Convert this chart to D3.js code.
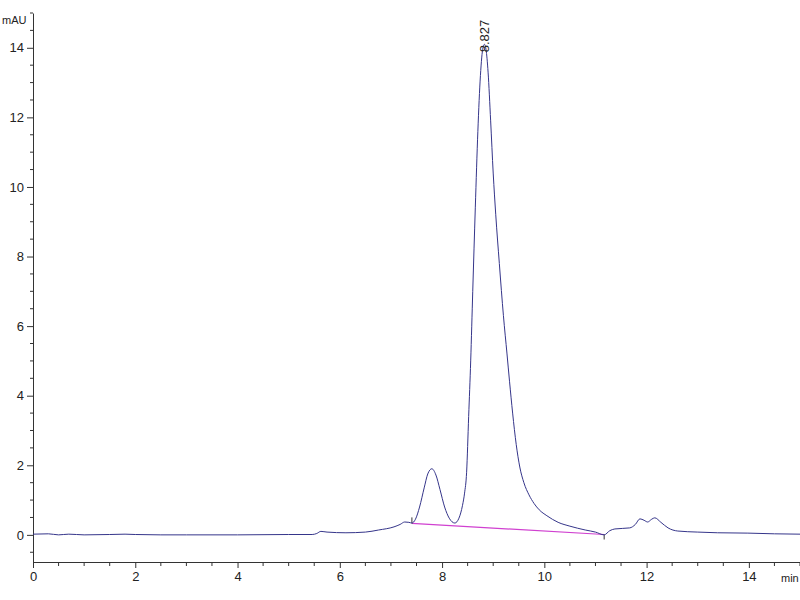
<!DOCTYPE html>
<html>
<head>
<meta charset="utf-8">
<script src="https://cdn.jsdelivr.net/npm/d3@7"></script>
<style>
  body { margin: 0; background: white; }
  text { font-family: "Liberation Sans", Arial, sans-serif; }
</style>
</head>
<body>
<div id="chart"></div>
<script>
// retention time (min) and signal (mAU)
let times = [0, 0.3, 0.5, 0.7, 1.0, 1.5, 1.8, 2.0, 2.5, 3.0, 4.0, 5.0, 5.46, 5.55, 5.63, 5.75, 6.12, 6.5, 6.76, 7.06, 7.18, 7.27, 7.35, 7.41,
  7.48, 7.56, 7.65, 7.72, 7.80, 7.88, 7.96, 8.05, 8.14, 8.25, 8.33, 8.40, 8.44, 8.48, 8.52, 8.56, 8.60, 8.65, 8.70, 8.75, 8.80, 8.83,
  8.86, 8.90, 8.95, 9.00, 9.05, 9.12, 9.20, 9.27, 9.32, 9.38, 9.45, 9.52, 9.60, 9.70, 9.80, 9.90, 10.05, 10.27, 10.5, 10.8, 11.0, 11.17,
  11.28, 11.38, 11.67, 11.78, 11.87, 11.95, 12.02, 12.10, 12.16, 12.28, 12.42, 12.61, 13.0, 13.39, 13.98, 14.5, 15.0];
let signal = [0.02, 0.03, 0.0, 0.02, 0.0, 0.01, 0.02, 0.01, 0.0, 0.0, 0.0, 0.01, 0.01, 0.04, 0.1, 0.08, 0.06, 0.08, 0.14, 0.23, 0.3, 0.37, 0.36, 0.34,
  0.45, 0.8, 1.35, 1.75, 1.9, 1.72, 1.3, 0.8, 0.48, 0.34, 0.48, 0.85, 1.2, 1.8, 3.4, 5.0, 7.0, 9.4, 11.6, 13.2, 14.0, 14.1,
  13.95, 13.3, 11.9, 10.4, 9.2, 7.8, 6.3, 5.2, 4.4, 3.5, 2.6, 1.95, 1.5, 1.15, 0.9, 0.72, 0.55, 0.36, 0.25, 0.14, 0.08, 0.0,
  0.12, 0.17, 0.2, 0.3, 0.46, 0.42, 0.37, 0.45, 0.49, 0.36, 0.2, 0.11, 0.08, 0.06, 0.05, 0.03, 0.02];

// integration baseline of the main peak
let baseTimes = [7.41, 11.17];
let baseValues = [0.33, 0.01];

let peakTime = 8.827, peakHeight = 14.1, peakLabel = '8.827';

let xTicks = [0, 2, 4, 6, 8, 10, 12, 14];
let yTicks = [0, 2, 4, 6, 8, 10, 12, 14];

let width = 800, height = 600;
let margin = { top: 13, right: 0, bottom: 38, left: 33 };

let svg = d3.select('#chart')
  .append('svg')
    .attr('width', width)
    .attr('height', height)
    .style('background', 'white');

let xScale = d3.scaleLinear()
  .domain([0, 15])
  .range([margin.left, width - margin.right]);

let yScale = d3.scaleLinear()
  .domain([-0.78, 15])
  .range([height - margin.bottom, margin.top]);

// minor ticks every 0.5
let xMinor = d3.range(0, 15.01, 0.5).filter(v => v % 2 !== 0);
let yMinor = d3.range(-0.5, 15.01, 0.5).filter(v => v % 2 !== 0);

let xAxis = svg.append('g')
  .attr('transform', 'translate(0,' + (height - margin.bottom) + ')')
  .call(d3.axisBottom(xScale).tickValues(xTicks).tickSize(6).tickSizeOuter(0).tickPadding(4).tickFormat(d3.format('d')));
xAxis.selectAll('.minor')
  .data(xMinor)
  .enter()
  .append('line')
  .attr('x1', d => xScale(d)).attr('x2', d => xScale(d))
  .attr('y1', 0).attr('y2', 4)
  .attr('stroke', '#333');

let yAxis = svg.append('g')
  .attr('transform', 'translate(' + margin.left + ',0)')
  .call(d3.axisLeft(yScale).tickValues(yTicks).tickSize(6).tickSizeOuter(0).tickPadding(3).tickFormat(d3.format('d')));
yAxis.selectAll('.minor')
  .data(yMinor)
  .enter()
  .append('line')
  .attr('x1', -3).attr('x2', 0)
  .attr('y1', d => yScale(d)).attr('y2', d => yScale(d))
  .attr('stroke', '#333');

svg.selectAll('.tick text')
  .style('font-size', '13px')
  .attr('fill', '#222');
svg.selectAll('.domain, .tick line').attr('stroke', '#333');

// unit labels
svg.append('text')
  .attr('x', 2)
  .attr('y', 24)
  .style('font-size', '11px')
  .attr('fill', '#222')
  .text('mAU');

svg.append('text')
  .attr('x', 781)
  .attr('y', 582)
  .style('font-size', '11px')
  .attr('fill', '#222')
  .text('min');

// integration baseline
let baseData = baseTimes.map((t, i) => [t, baseValues[i]]);
svg.append('path')
  .datum(baseData)
  .attr('fill', 'none')
  .attr('stroke', '#d040d0')
  .attr('stroke-width', 1.2)
  .attr('d', d3.line().x(d => xScale(d[0])).y(d => yScale(d[1])));

// peak start / end markers
svg.selectAll('.marker')
  .data(baseData)
  .enter()
  .append('line')
  .attr('x1', d => xScale(d[0])).attr('x2', d => xScale(d[0]))
  .attr('y1', (d, i) => yScale(d[1]) - (i === 0 ? 6 : 0))
  .attr('y2', (d, i) => yScale(d[1]) + (i === 0 ? 0 : 5))
  .attr('stroke', '#333');

// chromatogram trace
let trace = times.map((t, i) => [t, signal[i]]);
svg.append('path')
  .datum(trace)
  .attr('fill', 'none')
  .attr('stroke', '#35358a')
  .attr('stroke-width', 1)
  .attr('d', d3.line().curve(d3.curveMonotoneX).x(d => xScale(d[0])).y(d => yScale(d[1])));

// retention time label
svg.append('text')
  .attr('transform', 'translate(' + (xScale(peakTime) + 4.5) + ',' + (yScale(peakHeight) + 8) + ') rotate(-90)')
  .style('font-size', '13px')
  .attr('fill', '#222')
  .text(peakLabel);
</script>
</body>
</html>
